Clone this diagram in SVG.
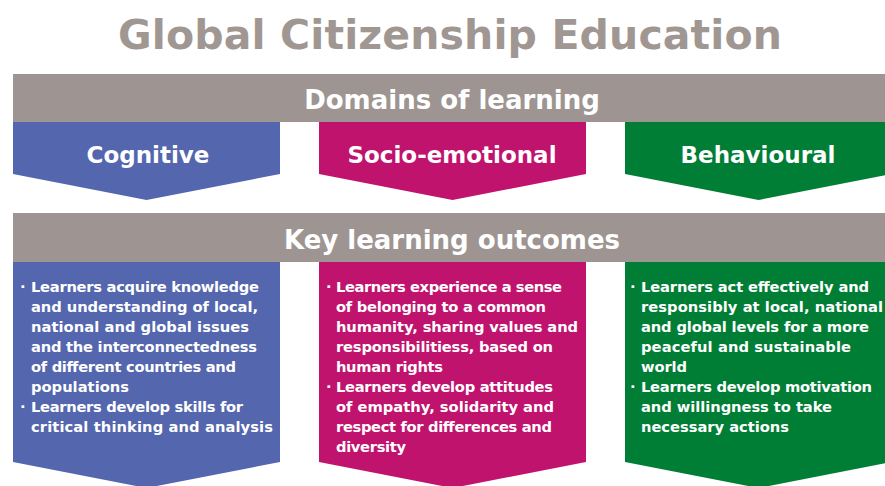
<svg xmlns="http://www.w3.org/2000/svg" width="885" height="486" viewBox="0 0 885 486">
  <style>
    .band { fill: #9e9592; }
    .cog { fill: #5366ae; }
    .soc { fill: #c0136e; }
    .beh { fill: #007e35; }
    .title { font-family: "DejaVu Sans", "Noto Sans", sans-serif; font-weight: 700; font-size: 41px; fill: #a09793; text-anchor: middle; }
    .head { font-family: "DejaVu Sans", "Noto Sans", sans-serif; font-weight: 700; font-size: 26px; fill: #ffffff; text-anchor: middle; }
    .dom { font-family: "DejaVu Sans", "Noto Sans", sans-serif; font-weight: 700; font-size: 23px; fill: #ffffff; text-anchor: middle; }
    .item { font-family: "DejaVu Sans", "Noto Sans", sans-serif; font-weight: 700; font-size: 14.7px; fill: #ffffff; }
  </style>

  <rect width="885" height="486" fill="#ffffff"/>

  <text class="title" x="450" y="49" textLength="664">Global Citizenship Education</text>

  <!-- header bands -->
  <g id="domains-band">
    <rect class="band" x="13" y="74" width="872" height="48"/>
    <text class="head" x="452" y="109">Domains of learning</text>
  </g>
  <g id="outcomes-band">
    <rect class="band" x="13" y="213" width="872" height="49"/>
    <text class="head" x="452" y="249">Key learning outcomes</text>
  </g>

  <!-- domain arrows -->
  <g id="cognitive">
    <path class="cog" d="M13,122 H280 V174 L146.5,200 L13,174 Z"/>
    <text class="dom" x="148" y="163">Cognitive</text>
  </g>
  <g id="socio-emotional">
    <path class="soc" d="M319,122 H586 V174 L452.5,200 L319,174 Z"/>
    <text class="dom" x="452" y="163">Socio-emotional</text>
  </g>
  <g id="behavioural">
    <path class="beh" d="M625,122 H892 V174 L758.5,200 L625,174 Z"/>
    <text class="dom" x="758" y="163">Behavioural</text>
  </g>

  <!-- outcome arrows, one text line per row -->
  <g id="cognitive-outcomes">
    <path class="cog" d="M13,262 H280 V462 L146.5,488 L13,462 Z"/>
    <text class="item" x="20" y="292">·</text>
    <text class="item" x="31" y="292" textLength="228">Learners acquire knowledge</text>
    <text class="item" x="31" y="312" textLength="227">and understanding of local,</text>
    <text class="item" x="31" y="332" textLength="218">national and global issues</text>
    <text class="item" x="31" y="352" textLength="226">and the interconnectedness</text>
    <text class="item" x="31" y="372" textLength="205">of different countries and</text>
    <text class="item" x="31" y="392" textLength="98">populations</text>
    <text class="item" x="20" y="412">·</text>
    <text class="item" x="31" y="412" textLength="212">Learners develop skills for</text>
    <text class="item" x="31" y="432" textLength="242">critical thinking and analysis</text>
  </g>
  <g id="socio-emotional-outcomes">
    <path class="soc" d="M319,262 H586 V462 L452.5,488 L319,462 Z"/>
    <text class="item" x="326" y="292">·</text>
    <text class="item" x="336" y="292" textLength="226">Learners experience a sense</text>
    <text class="item" x="336" y="312" textLength="210">of belonging to a common</text>
    <text class="item" x="336" y="332" textLength="242">humanity, sharing values and</text>
    <text class="item" x="336" y="352" textLength="217">responsibilitiess, based on</text>
    <text class="item" x="336" y="372" textLength="107">human rights</text>
    <text class="item" x="326" y="392">·</text>
    <text class="item" x="336" y="392" textLength="217">Learners develop attitudes</text>
    <text class="item" x="336" y="412" textLength="218">of empathy, solidarity and</text>
    <text class="item" x="336" y="432" textLength="216">respect for differences and</text>
    <text class="item" x="336" y="452" textLength="70">diversity</text>
  </g>
  <g id="behavioural-outcomes">
    <path class="beh" d="M625,262 H892 V462 L758.5,488 L625,462 Z"/>
    <text class="item" x="630" y="292">·</text>
    <text class="item" x="641" y="292" textLength="228">Learners act effectively and</text>
    <text class="item" x="641" y="312" textLength="242">responsibly at local, national</text>
    <text class="item" x="641" y="332" textLength="228">and global levels for a more</text>
    <text class="item" x="641" y="352" textLength="210">peaceful and sustainable</text>
    <text class="item" x="641" y="372" textLength="46">world</text>
    <text class="item" x="630" y="392">·</text>
    <text class="item" x="641" y="392" textLength="231">Learners develop motivation</text>
    <text class="item" x="641" y="412" textLength="191">and willingness to take</text>
    <text class="item" x="641" y="432" textLength="148">necessary actions</text>
  </g>
</svg>
